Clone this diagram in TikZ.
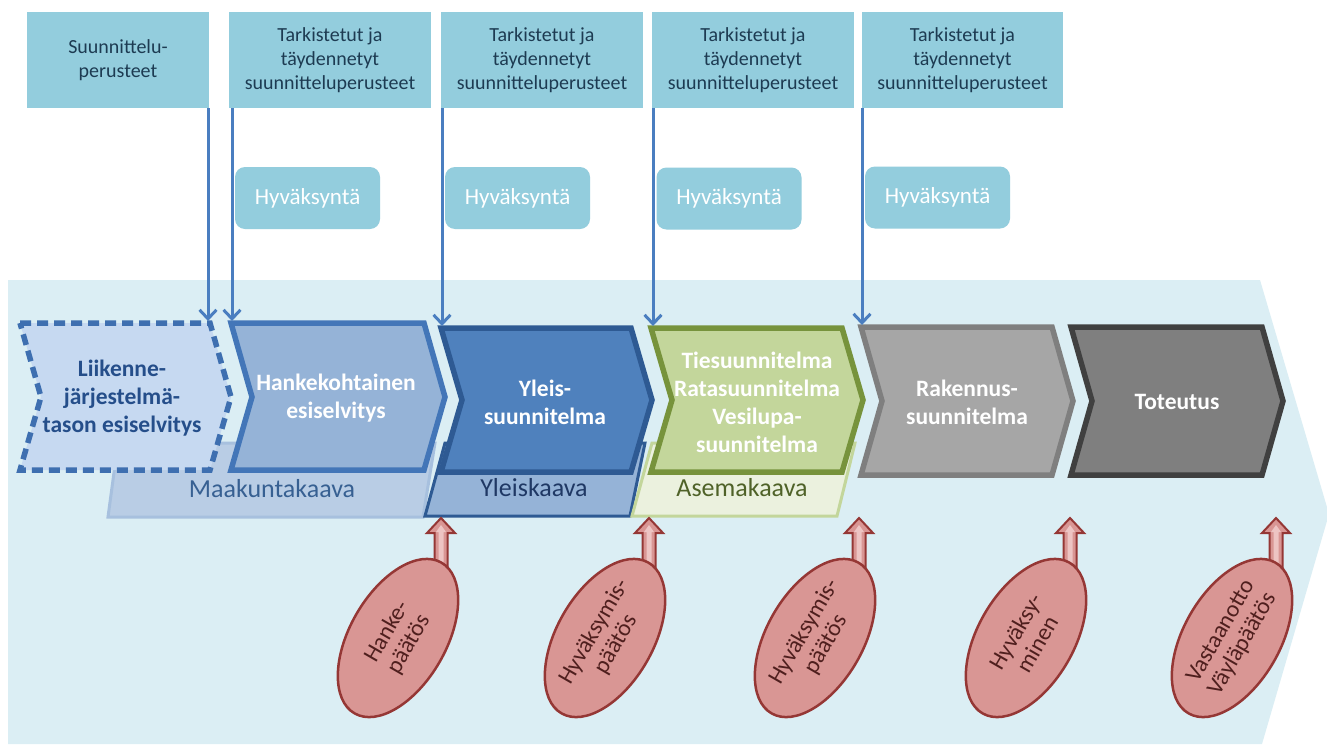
\documentclass[tikz,border=0pt]{standalone}
\usepackage{fontspec}
\setmainfont{Carlito}
\usetikzlibrary{shapes.geometric,arrows.meta}
\definecolor{bgblue}{HTML}{DBEEF4}
\definecolor{tbfill}{HTML}{93CDDD}
\definecolor{tbtext}{HTML}{1D3B52}
\definecolor{bline}{HTML}{4A7EC0}
\definecolor{chAfill}{HTML}{C6D9F1}\definecolor{chAline}{HTML}{3E6FB0}\definecolor{chAtext}{HTML}{254E8A}
\definecolor{chBfill}{HTML}{95B3D7}\definecolor{chBline}{HTML}{4376B8}
\definecolor{chCfill}{HTML}{4F81BD}\definecolor{chCline}{HTML}{2E5A93}
\definecolor{chDfill}{HTML}{C3D69B}\definecolor{chDline}{HTML}{77933C}
\definecolor{chEfill}{HTML}{A6A6A6}\definecolor{chEline}{HTML}{7F7F7F}
\definecolor{chFfill}{HTML}{7F7F7F}\definecolor{chFline}{HTML}{404040}
\definecolor{mkfill}{HTML}{B9CDE5}\definecolor{mkline}{HTML}{A7C0DE}\definecolor{mktext}{HTML}{376092}
\definecolor{ykfill}{HTML}{95B3D7}\definecolor{ykline}{HTML}{2E5A93}\definecolor{yktext}{HTML}{1F3864}
\definecolor{akfill}{HTML}{EBF1DE}\definecolor{akline}{HTML}{C3D69B}\definecolor{aktext}{HTML}{4F6228}
\definecolor{redfill}{HTML}{D99694}\definecolor{redline}{HTML}{953735}\definecolor{redtext}{HTML}{4F1F1E}
\definecolor{redlight}{HTML}{EDC4C3}
\begin{document}
\begin{tikzpicture}[x=1pt,y=-1pt,
  topbox/.style={fill=tbfill, draw=none, text=tbtext, align=center, inner sep=0,
    font=\fontsize{20}{24}\selectfont},
  hbox/.style={fill=tbfill, draw=none, rounded corners=10pt, text=white, inner sep=0,
    minimum width=145, minimum height=62, font=\fontsize{23}{27}\selectfont},
  barrow/.style={draw=bline, line width=3pt, -{Straight Barb[length=9pt,width=17pt]}},
  chev/.style={line width=5.5pt, line join=miter},
  chtext/.style={align=center, inner sep=0, text=white, font=\bfseries\fontsize{23.5}{28}\selectfont},
  kaava/.style={line width=3pt, line join=miter},
  ktext/.style={inner sep=0, font=\fontsize{26}{30}\selectfont},
  ell/.style={ellipse, draw=redline, fill=redfill, line width=2.5pt, minimum width=174,
    minimum height=96, inner sep=0, align=center, text=redtext,
    font=\fontsize{23.5}{25}\selectfont},
  redarrow/.style={fill=redfill, draw=redline, line width=2pt, line join=miter}
]
\useasboundingbox (0,0) rectangle (1327,744);
\fill[white] (0,0) rectangle (1327,744);
% background arrow
\fill[bgblue] (8,280) -- (1260,280) -- (1329,514) -- (1262,744) -- (8,744) -- cycle;

% kaava bands
\draw[kaava, fill=mkfill, draw=mkline] (118,443) -- (435,443) -- (423,517) -- (108,517) -- cycle;
\draw[kaava, fill=ykfill, draw=ykline] (445,443) -- (645,443) -- (630,516) -- (425,516) -- cycle;
\draw[kaava, fill=akfill, draw=akline] (652,443) -- (855,443) -- (837,516) -- (632,516) -- cycle;
\node[ktext, text=mktext] (mk) at (272,489) {Maakuntakaava};
\node[ktext, text=yktext] (yk) at (534,488) {Yleiskaava};
\node[ktext, text=aktext] (ak) at (742,488) {Asemakaava};

% chevrons
\draw[chev, fill=chAfill, draw=chAline, dash pattern=on 11pt off 6pt]
  (20,323) -- (210,323) -- (231,397) -- (210,470) -- (20,470) -- (41,397) -- cycle;
\draw[chev, fill=chBfill, draw=chBline]
  (231,323) -- (424,323) -- (445,397) -- (424,470) -- (231,470) -- (252,397) -- cycle;
\draw[chev, fill=chCfill, draw=chCline]
  (441,328) -- (631,328) -- (652,400) -- (631,472) -- (441,472) -- (462,400) -- cycle;
\draw[chev, fill=chDfill, draw=chDline]
  (651,328) -- (842,328) -- (863,400) -- (842,472) -- (651,472) -- (672,400) -- cycle;
\draw[chev, fill=chEfill, draw=chEline]
  (861,327) -- (1052,327) -- (1073,401) -- (1052,475) -- (861,475) -- (882,401) -- cycle;
\draw[chev, fill=chFfill, draw=chFline]
  (1071,327) -- (1262,327) -- (1283,401) -- (1262,475) -- (1071,475) -- (1092,401) -- cycle;

\node[chtext, text=chAtext] (l1) at (122,398) {Liikenne-\\järjestelmä-\\tason esiselvitys};
\node[chtext] (l2) at (336,398) {Hankekohtainen\\esiselvitys};
\node[chtext] (l3) at (545,402) {Yleis-\\suunnitelma};
\node[chtext] (l4) at (757,402) {Tiesuunnitelma\\Ratasuunnitelma\\Vesilupa-\\suunnitelma};
\node[chtext] (l5) at (967,402) {Rakennus-\\suunnitelma};
\node[chtext] (l6) at (1177,402) {Toteutus};

% top boxes
\node[topbox, minimum width=182, minimum height=96] (tb1) at (118,60) {Suunnittelu-\\perusteet};
\node[topbox, minimum width=202, minimum height=96] (tb2) at (330,60) {Tarkistetut ja\\täydennetyt\\suunnitteluperusteet};
\node[topbox, minimum width=202, minimum height=96] (tb3) at (542,60) {Tarkistetut ja\\täydennetyt\\suunnitteluperusteet};
\node[topbox, minimum width=202, minimum height=96] (tb4) at (753,60) {Tarkistetut ja\\täydennetyt\\suunnitteluperusteet};
\node[topbox, minimum width=201, minimum height=96] (tb5) at (962.5,60) {Tarkistetut ja\\täydennetyt\\suunnitteluperusteet};

\node[hbox] (h1) at (307.5,198) {Hyväksyntä};
\node[hbox] (h2) at (517.5,198) {Hyväksyntä};
\node[hbox] (h3) at (729,198.5) {Hyväksyntä};
\node[hbox] (h4) at (937.5,197.5) {Hyväksyntä};

% blue arrows
\coordinate (a1) at (208,321);
\coordinate (a2) at (232,321);
\coordinate (a3) at (442,326);
\coordinate (a4) at (653,326);
\coordinate (a5) at (862,325);
\draw[barrow] (a1 |- tb1.south) -- (a1);
\draw[barrow] (a2 |- tb2.south) -- (a2);
\draw[barrow] (a3 |- tb3.south) -- (a3);
\draw[barrow] (a4 |- tb4.south) -- (a4);
\draw[barrow] (a5 |- tb5.south) -- (a5);

% red arrows
\foreach \c in {441,649,859,1070,1276}{
  \draw[redarrow] (\c-6.5,600) -- (\c-6.5,533) -- (\c-14,533) -- (\c,518) -- (\c+14,533)
    -- (\c+6.5,533) -- (\c+6.5,600) -- cycle;
  \fill[redlight] (\c-2.5,600) -- (\c-2.5,532) -- (\c-5,532) -- (\c,525) -- (\c+5,532)
    -- (\c+2.5,532) -- (\c+2.5,600) -- cycle;
}
% ellipses
\node[ell, rotate=60] (e1) at (398,638) {Hanke-\\päätös};
\node[ell, rotate=60] (e2) at (605,638) {Hyväksymis-\\päätös};
\node[ell, rotate=60] (e3) at (815,638) {Hyväksymis-\\päätös};
\node[ell, rotate=60] (e4) at (1026,638) {Hyväksy-\\minen};
\node[ell, rotate=60] (e5) at (1232,638) {Vastaanotto\\Väyläpäätös};
\end{tikzpicture}
\end{document}
